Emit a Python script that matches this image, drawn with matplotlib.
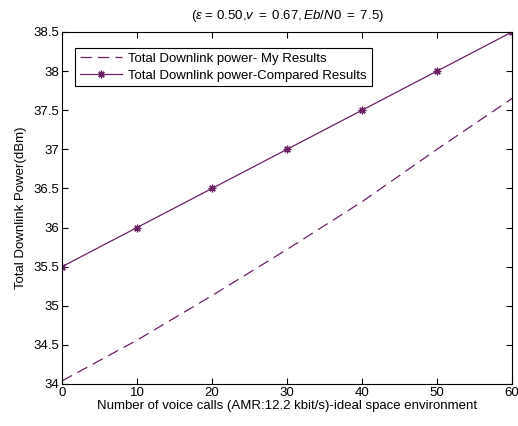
import matplotlib
matplotlib.use('Agg')
import matplotlib.pyplot as plt

plt.rcParams['font.family'] = ['Liberation Sans', 'DejaVu Sans']
plt.rcParams['mathtext.fontset'] = 'custom'
plt.rcParams['mathtext.rm'] = 'Liberation Sans'
plt.rcParams['mathtext.it'] = 'Liberation Sans:italic'

# data
calls = [0, 10, 20, 30, 40, 50, 60]
my_results = [34.04, 34.56, 35.13, 35.72, 36.33, 37.0, 37.65]
compared_results = [35.5, 36.0, 36.5, 37.0, 37.5, 38.0, 38.5]

xticks = [0, 10, 20, 30, 40, 50, 60]
yticks = [34, 34.5, 35, 35.5, 36, 36.5, 37, 37.5, 38, 38.5]
yticklabels = ['34', '34.5', '35', '35.5', '36', '36.5', '37', '37.5', '38', '38.5']

col = '#6a2262'
fs = 9.5

fig = plt.figure(figsize=(5.18, 4.26), dpi=100)
ax = fig.add_axes([0.1197, 0.0986, 0.8687, 0.8263])

ax.plot(calls, my_results, color=col, lw=0.9, dashes=(9, 5),
        label='Total Downlink power- My Results')
ax.plot(calls, compared_results, color=col, lw=0.9, marker=(8, 2, 0), markersize=5.5,
        markeredgewidth=0.9, label='Total Downlink power-Compared Results')

ax.set_xlim(0, 60)
ax.set_ylim(34, 38.5)
ax.set_xticks(xticks)
ax.set_yticks(yticks)
ax.set_yticklabels(yticklabels)
ax.tick_params(direction='in', top=True, right=True, labelsize=fs, length=4, width=0.8, pad=2)
for s in ax.spines.values():
    s.set_linewidth(0.8)

ax.set_xlabel('Number of voice calls (AMR:12.2 kbit/s)-ideal space environment', fontsize=fs, labelpad=1)
ax.set_ylabel('Total Downlink Power(dBm)', fontsize=fs, labelpad=5)
ax.set_title(r'($\epsilon$ = 0.50,$\mathit{v\ =\ 0.67,Eb/N0\ =\ 7.5}$)', fontsize=fs, pad=9)

leg = ax.legend(loc='upper left', bbox_to_anchor=(0.029, 0.955), fontsize=fs,
                fancybox=False, framealpha=1, edgecolor='black',
                handlelength=3.2, borderpad=0.35, labelspacing=0.35, handletextpad=0.5,
                borderaxespad=0)
leg.get_frame().set_linewidth(0.8)

fig.savefig('out.png', dpi=100)
